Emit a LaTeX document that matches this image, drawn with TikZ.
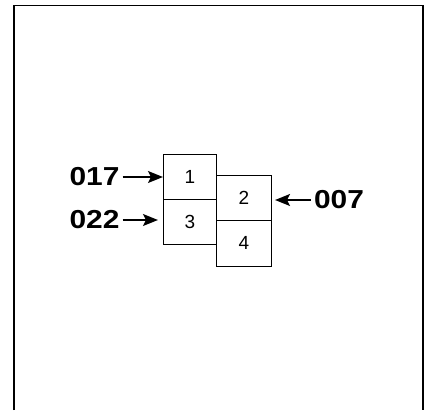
\documentclass[tikz,border=0pt]{standalone}
\usepackage{fontspec}
\setmainfont{Liberation Sans}
\newfontfamily\labfont[FakeStretch=1.15]{Liberation Sans}
\usetikzlibrary{arrows.meta}
\begin{document}
\begin{tikzpicture}[x=1pt,y=-1pt,
  cell/.style={draw, line width=1.1pt, inner sep=0pt, font=\fontsize{19}{19}\selectfont},
  tag/.style={inner sep=0pt, font=\labfont\bfseries\fontsize{26}{26}\selectfont},
  pointer/.style={line width=1.6pt, -{Stealth[length=15pt,width=12pt,inset=3pt]}}]
\useasboundingbox (0,0) rectangle (433,410);
% open-bottom frame
\draw[line width=1.5pt] (14,410) -- (14,5.5) -- (423,5.5) -- (423,410);
% cells
\node[cell, minimum width=53pt, minimum height=45.3pt] (c1) at (190,176.7) {1};
\node[cell, minimum width=53pt, minimum height=44.7pt] (c3) at (190,221.7) {3};
\node[cell, minimum width=55pt, minimum height=45.7pt] (c2) at (244,197.9) {2};
\node[cell, minimum width=55pt, minimum height=45.3pt] (c4) at (244,243.4) {4};
% tags
\node[tag] (t017) at (94.5,177) {017};
\node[tag] (t022) at (94.5,220) {022};
\node[tag] (t007) at (339,200) {007};
% pointers
\draw[pointer, shorten <=3pt] (t017.east) -- (t017 -| c1.west);
\draw[pointer, shorten <=3pt, shorten >=5pt] (t022.east) -- (t022 -| c3.west);
\draw[pointer, shorten <=3pt, shorten >=3pt] (t007.west) -- (t007 -| c2.east);
\end{tikzpicture}
\end{document}
